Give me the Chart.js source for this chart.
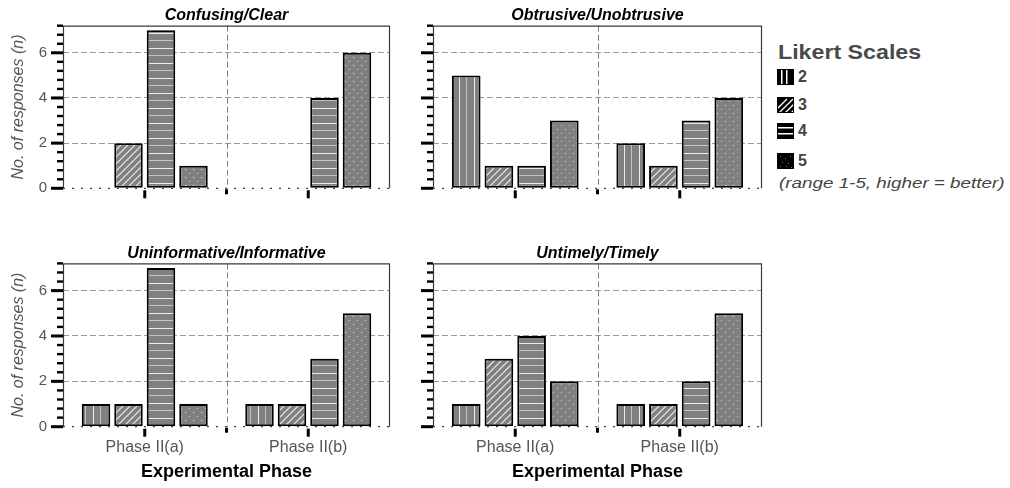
<!DOCTYPE html>
<html>
<head>
<meta charset="utf-8">
<script src="https://cdn.jsdelivr.net/npm/chart.js@4.4.1/dist/chart.umd.min.js"></script>
<style>
  html, body { margin: 0; padding: 0; background: #fff; }
  #figure { position: relative; width: 1010px; height: 488px; overflow: hidden;
            font-family: 'Liberation Sans', Arial, sans-serif; }
  #figure canvas.panel { position: absolute; }
  .legend-title { position: absolute; left: 778px; top: 42px; font-size: 20px; line-height: 20px;
                  font-weight: bold; color: #4a4a4a; transform: scaleX(1.16); transform-origin: 0 0;
                  white-space: nowrap; }
  .legend-item { position: absolute; left: 777px; width: 60px; height: 16px; }
  .legend-item canvas { position: absolute; left: 0; top: 0; }
  .legend-item span { position: absolute; left: 21px; top: -1px; font-size: 16px; font-weight: bold;
                      line-height: 18px; color: #444; }
  .legend-note { position: absolute; left: 779px; top: 175px; font-size: 15px; line-height: 15px;
                 font-style: italic; color: #444; transform: scaleX(1.255); transform-origin: 0 0;
                 white-space: nowrap; }
</style>
</head>
<body>
<div id="figure">
  <canvas class="panel" id="pTL" width="396" height="235" style="left:0px;top:0px;width:396px;height:235px"></canvas>
  <canvas class="panel" id="pTR" width="372" height="235" style="left:396px;top:0px;width:372px;height:235px"></canvas>
  <canvas class="panel" id="pBL" width="396" height="253" style="left:0px;top:235px;width:396px;height:253px"></canvas>
  <canvas class="panel" id="pBR" width="372" height="253" style="left:396px;top:235px;width:372px;height:253px"></canvas>
  <div id="legend"></div>
</div>
<script>
// ---- data ----
const phases = ['Phase II(a)', 'Phase II(b)'];
const likertLevels = ['2', '3', '4', '5'];
const yTickLabels = ['0', '2', '4', '6'];
const yMax = 7.2;
const yStep = 0.4;

// responses per Likert level (rows follow likertLevels), columns: [Phase II(a), Phase II(b)]
const confusingClear           = [[0, 0], [2, 0], [7, 4], [1, 6]];
const obtrusiveUnobtrusive     = [[5, 2], [1, 1], [1, 3], [3, 4]];
const uninformativeInformative = [[1, 1], [1, 1], [7, 3], [1, 5]];
const untimelyTimely           = [[1, 1], [3, 1], [4, 2], [2, 5]];

const legendTitle = 'Likert Scales';
const legendNote = '(range 1-5, higher = better)';

// ---- hatch fills ----
const patternKinds = ['vertical', 'diagonal', 'horizontal', 'dots'];

function makeTile(kind, bg, fg, alt) {
  const c = document.createElement('canvas');
  const g = c.getContext('2d');
  let w = 7, h = 7;
  if (kind === 'vertical') { w = 15; h = 4; }
  if (kind === 'horizontal') { w = 4; h = 15; }
  if (kind === 'dots') { w = 8; h = 8; }
  c.width = w; c.height = h;
  g.fillStyle = bg; g.fillRect(0, 0, w, h);
  if (kind === 'vertical') {
    g.fillStyle = fg; g.fillRect(3, 0, 1, h);
    g.fillStyle = alt; g.fillRect(10, 0, 1, h);
  } else if (kind === 'horizontal') {
    g.fillStyle = fg; g.fillRect(0, 3, w, 1);
    g.fillStyle = alt; g.fillRect(0, 10, w, 1);
  } else if (kind === 'diagonal') {
    g.strokeStyle = fg; g.lineWidth = 1.2;
    g.beginPath();
    g.moveTo(-1, 8); g.lineTo(8, -1);
    g.moveTo(-1, 1); g.lineTo(1, -1);
    g.moveTo(6, 8); g.lineTo(8, 6);
    g.stroke();
  } else {
    g.fillStyle = fg; g.fillRect(1, 1, 1, 1);
    g.fillStyle = alt; g.fillRect(5, 5, 1, 1);
  }
  return c;
}

const patternCtx = document.createElement('canvas').getContext('2d');
const barFills = patternKinds.map(k =>
  patternCtx.createPattern(makeTile(k, '#808080', '#ececec', '#c4c4c4'), 'repeat'));

// ---- helpers ----
function labelFor(v) {
  const hit = yTickLabels.find(l => Math.abs(Number(l) - v) < 1e-6);
  return hit === undefined ? '' : hit;
}
function isLabelled(v) { return labelFor(v) !== ''; }

// frame, phase divider and axis tick marks
const panelFrame = {
  id: 'panelFrame',
  beforeDatasetsDraw(chart) {
    const { ctx, chartArea: a, scales: { x } } = chart;
    const mid = (x.getPixelForTick(0) + x.getPixelForTick(1)) / 2;
    ctx.save();
    ctx.lineWidth = 1;
    ctx.strokeStyle = '#808080';
    ctx.setLineDash([6, 3]);
    ctx.beginPath();
    ctx.moveTo(Math.round(mid) + 0.5, a.top);
    ctx.lineTo(Math.round(mid) + 0.5, a.bottom);
    ctx.stroke();
    ctx.strokeStyle = '#444';
    ctx.lineWidth = 1.2;
    ctx.setLineDash([2, 7]);
    ctx.beginPath();
    ctx.moveTo(a.left, a.bottom);
    ctx.lineTo(a.right, a.bottom);
    ctx.stroke();
    ctx.restore();
  },
  afterDatasetsDraw(chart) {
    const { ctx, chartArea: a, scales: { x, y } } = chart;
    const mid = (x.getPixelForTick(0) + x.getPixelForTick(1)) / 2;
    ctx.save();
    ctx.strokeStyle = '#3a3a3a';
    ctx.lineWidth = 1.2;
    ctx.beginPath();
    ctx.moveTo(a.left + 0.5, a.bottom);
    ctx.lineTo(a.left + 0.5, a.top + 0.5);
    ctx.lineTo(a.right - 0.5, a.top + 0.5);
    ctx.lineTo(a.right - 0.5, a.bottom);
    ctx.stroke();
    ctx.fillStyle = '#000';
    y.ticks.forEach(t => {
      const py = y.getPixelForValue(t.value);
      if (isLabelled(t.value)) ctx.fillRect(a.left - 12, py - 1.5, 12, 3);
      else ctx.fillRect(a.left - 6, py - 1.2, 6, 2.4);
    });
    x.ticks.forEach((t, i) => {
      const px = x.getPixelForTick(i);
      ctx.fillRect(px - 1.5, a.bottom + 2, 3, 8);
    });
    ctx.fillRect(mid - 1.5, a.bottom + 1, 3, 5);
    ctx.restore();
  }
};

Chart.defaults.font.family = "'Liberation Sans', Arial, sans-serif";

function makePanel(id, title, counts, isLeft, isBottom) {
  return new Chart(document.getElementById(id), {
    type: 'bar',
    data: {
      labels: phases,
      datasets: likertLevels.map((lv, i) => ({
        label: lv,
        data: counts[i],
        backgroundColor: barFills[i],
        borderColor: '#000',
        borderWidth: c => (c.raw ? 2 : 0),
        borderSkipped: false,
        categoryPercentage: 0.795,
        barPercentage: 0.877
      }))
    },
    options: {
      responsive: false,
      animation: false,
      events: [],
      layout: { padding: { left: 0, right: 6, top: 0, bottom: 0 } },
      plugins: {
        legend: { display: false },
        tooltip: { enabled: false },
        title: {
          display: true, text: title, fullSize: false, color: '#000',
          font: { size: 16, weight: 'bold', style: 'italic' },
          padding: { top: isBottom ? 9.1 : 6.4, bottom: 0.1 }
        }
      },
      scales: {
        x: {
          type: 'category',
          offset: true,
          grid: { display: false, drawTicks: false },
          border: { display: false },
          ticks: { display: isBottom, color: '#555', font: { size: 16 }, padding: 11,
                   maxRotation: 0, autoSkip: false },
          title: { display: isBottom, text: 'Experimental Phase', color: '#000',
                   font: { size: 18, weight: 'bold' }, padding: { top: 0, bottom: 5 } },
          afterFit: s => { s.height = isBottom ? 61.3 : 46.7; }
        },
        y: {
          min: 0, max: yMax,
          border: { display: false, dash: [6, 3] },
          grid: {
            drawTicks: false, lineWidth: 1,
            color: c => (c.tick && c.tick.value > 0 && isLabelled(c.tick.value) ? '#9a9a9a' : 'rgba(0,0,0,0)')
          },
          ticks: { stepSize: yStep, autoSkip: false, display: isLeft, padding: 16,
                   color: '#555', font: { size: 15 }, callback: v => labelFor(v) },
          title: { display: isLeft, text: 'No. of responses (n)', color: '#555',
                   font: { size: 16, style: 'italic' }, padding: { top: 9, bottom: 0 } },
          afterFit: s => { s.width = isLeft ? 63 : 37; }
        }
      }
    },
    plugins: [panelFrame]
  });
}

makePanel('pTL', 'Confusing/Clear', confusingClear, true, false);
makePanel('pTR', 'Obtrusive/Unobtrusive', obtrusiveUnobtrusive, false, false);
makePanel('pBL', 'Uninformative/Informative', uninformativeInformative, true, true);
makePanel('pBR', 'Untimely/Timely', untimelyTimely, false, true);

// ---- legend ----
function drawSwatch(cv, kind) {
  const g = cv.getContext('2d');
  g.fillStyle = '#000'; g.fillRect(0, 0, 17, 16);
  g.fillStyle = '#fff'; g.strokeStyle = '#fff';
  if (kind === 'vertical') {
    g.fillRect(4, 1, 1.5, 14); g.fillRect(9, 1, 1.5, 14);
  } else if (kind === 'horizontal') {
    g.fillRect(1, 4, 15, 1.5); g.fillRect(1, 10, 15, 1.5);
  } else if (kind === 'diagonal') {
    g.lineWidth = 1.3;
    g.beginPath();
    [-4, 2, 8, 14].forEach(o => { g.moveTo(o, 16); g.lineTo(o + 14, 2); });
    g.stroke();
    g.fillStyle = '#000';
    g.fillRect(0, 0, 17, 1); g.fillRect(0, 15, 17, 1); g.fillRect(0, 0, 1, 16); g.fillRect(16, 0, 1, 16);
  } else {
    g.fillStyle = '#777';
    [[3, 3], [8, 5], [13, 3], [5, 9], [11, 10], [3, 13], [9, 13], [14, 14]].forEach(p => g.fillRect(p[0], p[1], 1, 1));
  }
}

const legendRowTops = [69.3, 96.7, 123.3, 153.3];
const legend = document.getElementById('legend');
const lt = document.createElement('div');
lt.className = 'legend-title';
lt.textContent = legendTitle;
legend.appendChild(lt);
likertLevels.forEach((lv, i) => {
  const item = document.createElement('div');
  item.className = 'legend-item';
  item.style.top = legendRowTops[i] + 'px';
  const cv = document.createElement('canvas');
  cv.width = 17; cv.height = 16;
  drawSwatch(cv, patternKinds[i]);
  const sp = document.createElement('span');
  sp.textContent = lv;
  item.appendChild(cv);
  item.appendChild(sp);
  legend.appendChild(item);
});
const ln = document.createElement('div');
ln.className = 'legend-note';
ln.textContent = legendNote;
legend.appendChild(ln);
</script>
</body>
</html>
